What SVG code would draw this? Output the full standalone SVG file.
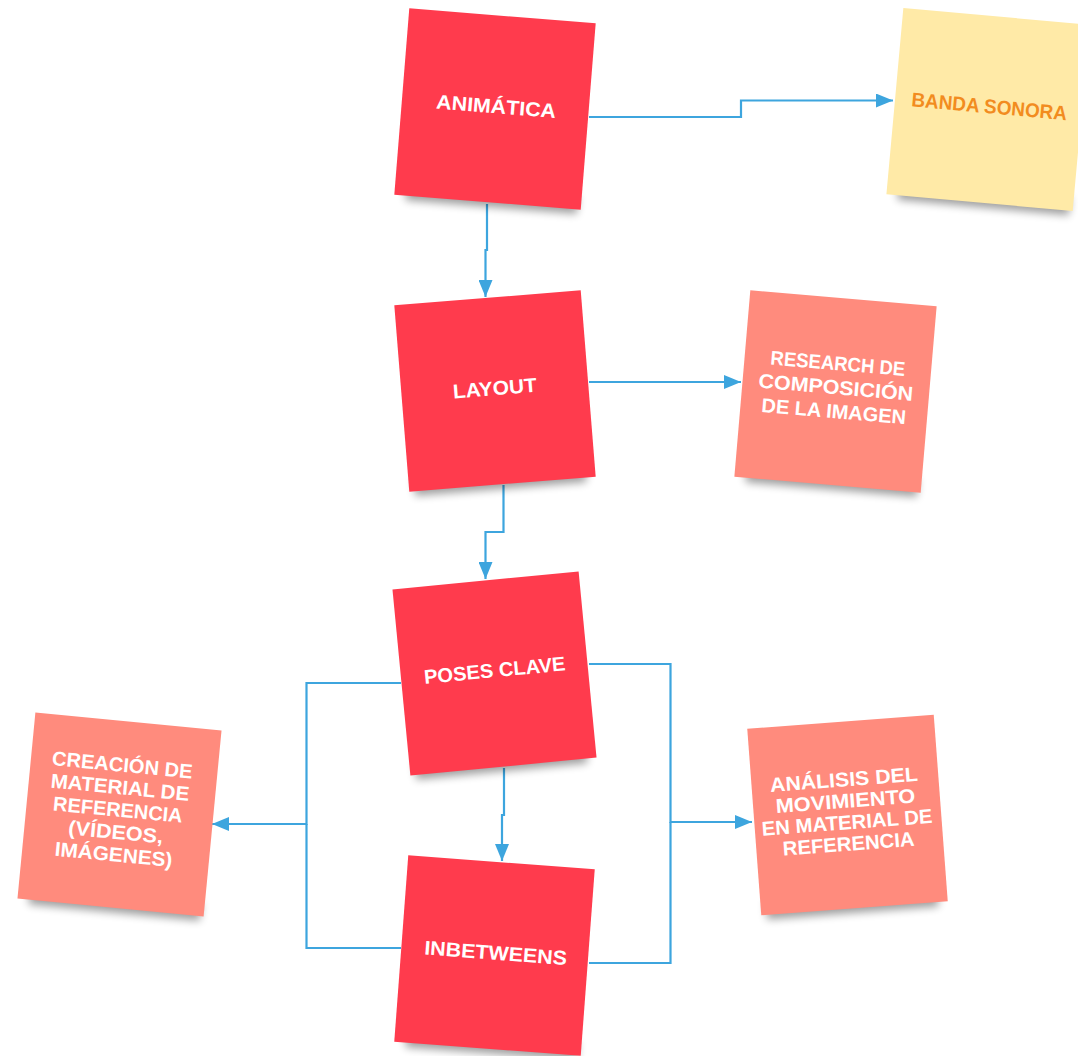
<svg xmlns="http://www.w3.org/2000/svg" width="1078" height="1056" viewBox="0 0 1078 1056">
<defs>
<filter id="blur" x="-20%" y="-100%" width="140%" height="300%"><feGaussianBlur stdDeviation="4"/></filter>
<marker id="arr" markerUnits="userSpaceOnUse" markerWidth="18" markerHeight="14" refX="17" refY="7" orient="auto"><path d="M0,0 L17,7 L0,14 Z" fill="#3DA5DE"/></marker>
<style>
.sh{fill:#000;opacity:0.38;filter:url(#blur)}
.red{fill:#FF3B4D}
.sal{fill:#FF8B7D}
.yel{fill:#FFEAA7}
.t{font-family:"Liberation Sans","DejaVu Sans",sans-serif;font-weight:bold;font-size:20px;fill:#fff;text-anchor:middle}
.o{fill:#F28C1F}
.c{fill:none;stroke:#3DA5DE;stroke-width:2.2}
</style>
</defs>
<g id="connectors">
<path class="c" d="M589,117 H741 V100.5 H893" marker-end="url(#arr)"/>
<path class="c" d="M487,204 V250 H485.5 V297" marker-end="url(#arr)"/>
<path class="c" d="M589,382 H741" marker-end="url(#arr)"/>
<path class="c" d="M503.5,485 V532 H485.5 V579" marker-end="url(#arr)"/>
<path class="c" d="M504,768 V815 H502 V861" marker-end="url(#arr)"/>
<path class="c" d="M401,683 H306.5 V824 H212" marker-end="url(#arr)"/>
<path class="c" d="M401,948 H306.5 V824"/>
<path class="c" d="M589,664 H670.5 V822 H752" marker-end="url(#arr)"/>
<path class="c" d="M589,963 H670.5 V822"/>
</g>
<g id="animatica" transform="translate(495,109) rotate(4.6)">
<rect class="sh" x="-82" y="80" width="172" height="18"/>
<rect class="red" x="-93.5" y="-93.5" width="187" height="187"/>
<text class="t" x="1" y="4.2" textLength="120" lengthAdjust="spacingAndGlyphs">ANIMÁTICA</text>
</g>
<g id="banda" transform="translate(988,109.5) rotate(5.2)">
<rect class="sh" x="-82" y="80" width="172" height="18"/>
<rect class="yel" x="-93.5" y="-93.5" width="187" height="187"/>
<text class="t o" x="1" y="3.7" textLength="156" lengthAdjust="spacingAndGlyphs">BANDA SONORA</text>
</g>
<g id="layout" transform="translate(495,391) rotate(-4.6)">
<rect class="sh" x="-88" y="80" width="172" height="18"/>
<rect class="red" x="-93.5" y="-93.5" width="187" height="187"/>
<text class="t" x="0" y="4.2" textLength="84" lengthAdjust="spacingAndGlyphs">LAYOUT</text>
</g>
<g id="research" transform="translate(835.5,391.5) rotate(4.9)">
<rect class="sh" x="-82" y="80" width="172" height="18"/>
<rect class="sal" x="-93.5" y="-93.5" width="187" height="187"/>
<text class="t" x="0" y="-21.3" textLength="135" lengthAdjust="spacingAndGlyphs">RESEARCH DE</text>
<text class="t" x="0" y="2.7" textLength="155" lengthAdjust="spacingAndGlyphs">COMPOSICIÓN</text>
<text class="t" x="0" y="26.7" textLength="145" lengthAdjust="spacingAndGlyphs">DE LA IMAGEN</text>
</g>
<g id="poses" transform="translate(494.5,673.5) rotate(-5.5)">
<rect class="sh" x="-88" y="80" width="172" height="18"/>
<rect class="red" x="-93.5" y="-93.5" width="187" height="187"/>
<text class="t" x="0.5" y="3.7" textLength="142" lengthAdjust="spacingAndGlyphs">POSES CLAVE</text>
</g>
<g id="inbetweens" transform="translate(494.5,955.5) rotate(4.3)">
<rect class="sh" x="-82" y="80" width="172" height="18"/>
<rect class="red" x="-93.5" y="-93.5" width="187" height="187"/>
<text class="t" x="1" y="4.2" textLength="143" lengthAdjust="spacingAndGlyphs">INBETWEENS</text>
</g>
<g id="creacion" transform="translate(119.5,814.5) rotate(5.5)">
<rect class="sh" x="-82" y="80" width="172" height="18"/>
<rect class="sal" x="-93.5" y="-93.5" width="187" height="187"/>
<text class="t" x="-2" y="-42.8" textLength="141" lengthAdjust="spacingAndGlyphs">CREACIÓN DE</text>
<text class="t" x="-2" y="-20.3" textLength="139" lengthAdjust="spacingAndGlyphs">MATERIAL DE</text>
<text class="t" x="-2" y="2.2" textLength="130" lengthAdjust="spacingAndGlyphs">REFERENCIA</text>
<text class="t" x="-2" y="24.7" textLength="95" lengthAdjust="spacingAndGlyphs">(VÍDEOS,</text>
<text class="t" x="-2" y="47.2" textLength="118" lengthAdjust="spacingAndGlyphs">IMÁGENES)</text>
</g>
<g id="analisis" transform="translate(847.5,815) rotate(-4.3)">
<rect class="sh" x="-88" y="80" width="172" height="18"/>
<rect class="sal" x="-93.5" y="-93.5" width="187" height="187"/>
<text class="t" x="-1" y="-28.8" textLength="148" lengthAdjust="spacingAndGlyphs">ANÁLISIS DEL</text>
<text class="t" x="-1" y="-7.3" textLength="140" lengthAdjust="spacingAndGlyphs">MOVIMIENTO</text>
<text class="t" x="-1" y="14.2" textLength="171" lengthAdjust="spacingAndGlyphs">EN MATERIAL DE</text>
<text class="t" x="-1" y="35.7" textLength="132" lengthAdjust="spacingAndGlyphs">REFERENCIA</text>
</g>
</svg>
